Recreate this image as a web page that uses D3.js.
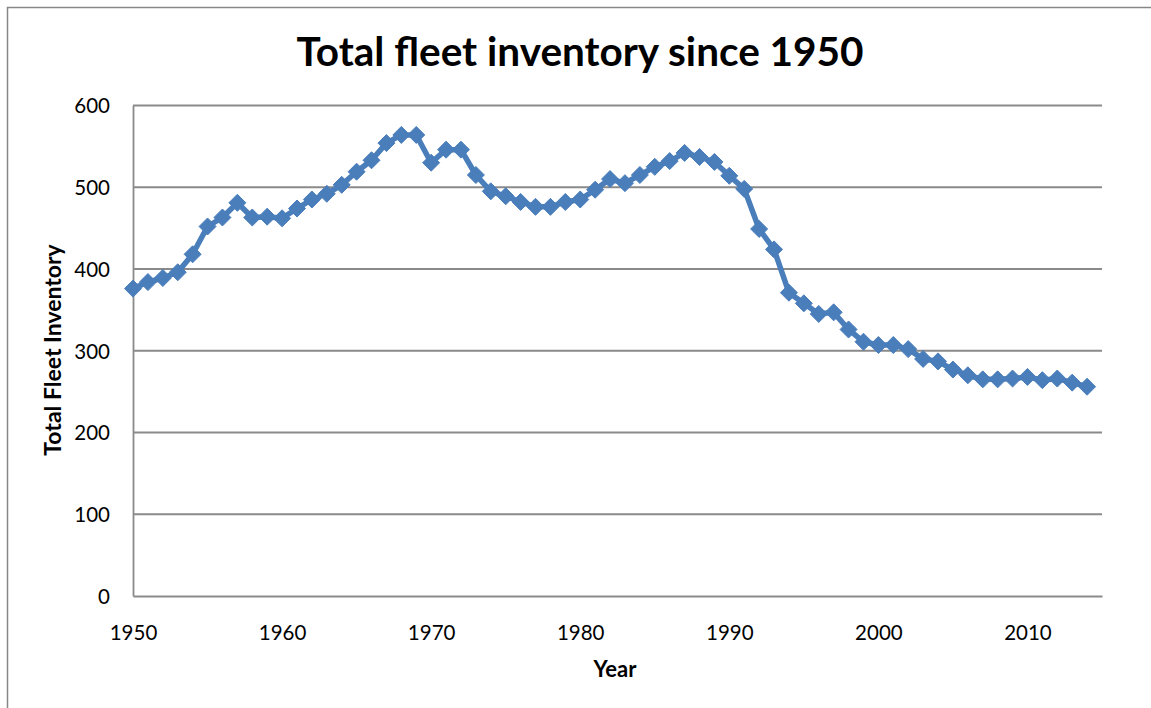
<!DOCTYPE html>
<html>
<head>
<meta charset="utf-8">
<script src="https://cdn.jsdelivr.net/npm/d3@7"></script>
<style>
  html, body { margin: 0; padding: 0; background: #fff; }
  svg { display: block; }
  text { font-family: Lato, "Open Sans", sans-serif; fill: #000; }
</style>
</head>
<body>
<svg id="chart" width="1151" height="708"></svg>
<script>
const years = [1950,1951,1952,1953,1954,1955,1956,1957,1958,1959,
               1960,1961,1962,1963,1964,1965,1966,1967,1968,1969,
               1970,1971,1972,1973,1974,1975,1976,1977,1978,1979,
               1980,1981,1982,1983,1984,1985,1986,1987,1988,1989,
               1990,1991,1992,1993,1994,1995,1996,1997,1998,1999,
               2000,2001,2002,2003,2004,2005,2006,2007,2008,2009,
               2010,2011,2012,2013,2014];
const inventory = [376,384,389,396,418,452,463,481,463,464,
                   462,474,485,492,503,519,533,554,564,564,
                   530,546,546,515,495,489,482,476,476,482,
                   485,497,510,505,515,525,532,542,537,531,
                   514,498,449,424,371,358,345,347,326,311,
                   307,307,302,290,287,277,270,265,265,266,
                   268,264,266,261,256];
const xTicks = [1950,1960,1970,1980,1990,2000,2010];
const yTicks = [0,100,200,300,400,500,600];
const titleText = "Total fleet inventory since 1950";
const xTitle = "Year";
const yTitle = "Total Fleet Inventory";

(function () {
const svg = d3.select("#chart");
const pLeft = 133, pRight = 1102, pTop = 105.5, pBottom = 596;

const x = d3.scaleLinear().domain([1950, 2015]).range([pLeft, pRight]);
const y = d3.scaleLinear().domain([0, 600]).range([pBottom, pTop]);

// chart border
svg.append("path")
  .attr("d", `M7.5,708 L7.5,7.5 L1151,7.5`)
  .attr("fill", "none").attr("stroke", "#878787").attr("stroke-width", 1.5);

// gridlines
svg.append("g").selectAll("line").data(yTicks.filter(d => d > 0)).join("line")
  .attr("x1", pLeft).attr("x2", pRight)
  .attr("y1", d => y(d)).attr("y2", d => y(d))
  .attr("stroke", "#8a8a8a").attr("stroke-width", 1.8);

// axes
const yAxis = d3.axisLeft(y).tickValues(yTicks).tickSize(0).tickPadding(23);
const gy = svg.append("g").attr("transform", `translate(${pLeft},0)`).call(yAxis);
gy.select(".domain").attr("stroke", "#8a8a8a").attr("stroke-width", 1.8);
gy.selectAll("text").attr("font-size", 20.5).attr("font-family", "Lato, sans-serif").attr("dy", "0.36em");

const xAxis = d3.axisBottom(x).tickValues(xTicks).tickFormat(d3.format("d")).tickSize(0).tickPadding(29);
const gx = svg.append("g").attr("transform", `translate(0,${pBottom})`).call(xAxis);
gx.select(".domain").attr("stroke", "#8a8a8a").attr("stroke-width", 1.8);
gx.selectAll("text").attr("font-size", 20.5).attr("font-family", "Lato, sans-serif").attr("dy", "0.71em");

// line
const data = years.map((yr, i) => ({year: yr, value: inventory[i]}));
svg.append("path").datum(data)
  .attr("fill", "none").attr("stroke", "#4A7EBB").attr("stroke-width", 5.5)
  .attr("stroke-linejoin", "round")
  .attr("d", d3.line().x(d => x(d.year)).y(d => y(d.value)));

// markers
svg.append("g").selectAll("path").data(data).join("path")
  .attr("transform", d => `translate(${x(d.year)},${y(d.value)})`)
  .attr("d", "M0,-8.5 L8.5,0 L0,8.5 L-8.5,0 Z")
  .attr("fill", "#4A7EBB").attr("stroke", "#4A7EBB").attr("stroke-width", 1);

// titles
svg.append("text").attr("x", 580).attr("y", 66).attr("text-anchor", "middle")
  .attr("font-size", 40.5).attr("font-weight", "bold").text(titleText);
svg.append("text").attr("x", 615).attr("y", 677).attr("text-anchor", "middle")
  .attr("font-size", 22).attr("font-weight", "bold").text(xTitle);
svg.append("text").attr("transform", "translate(61,350) rotate(-90)").attr("text-anchor", "middle")
  .attr("font-size", 23).attr("font-weight", "bold").text(yTitle);
})();
</script>
</body>
</html>
